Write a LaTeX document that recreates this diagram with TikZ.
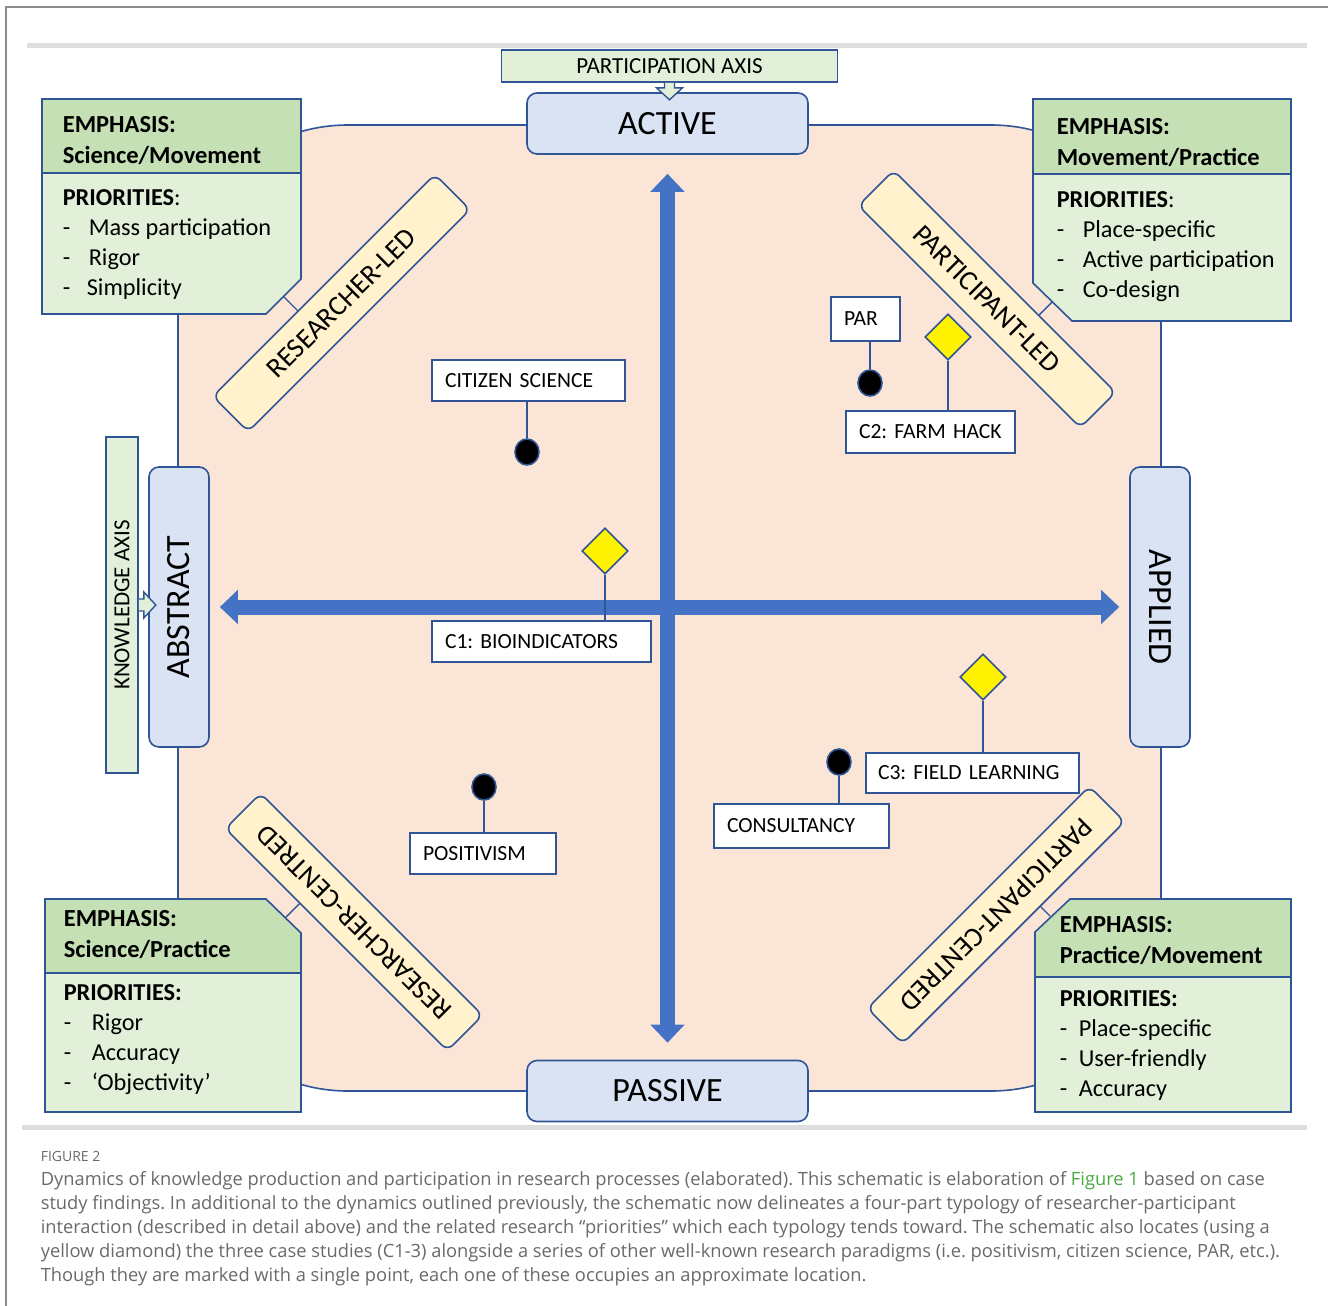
\documentclass[tikz,border=0pt]{standalone}
\usepackage{fontspec}
\setmainfont{Carlito}
\newfontfamily\capfont{Open Sans}
\usepackage{tikz}
\usetikzlibrary{arrows.meta,positioning,shapes.geometric,calc}
\definecolor{edgeblue}{RGB}{47,85,151}
\definecolor{arrowblue}{RGB}{68,114,196}
\definecolor{peach}{RGB}{251,229,214}
\definecolor{axisblue}{RGB}{218,227,243}
\definecolor{headgreen}{RGB}{197,224,180}
\definecolor{bodygreen}{RGB}{226,240,217}
\definecolor{bandyellow}{RGB}{255,242,204}
\definecolor{capgray}{RGB}{105,105,105}
\definecolor{linkgreen}{RGB}{74,170,66}
\frenchspacing

\begin{document}
\begin{tikzpicture}[x=1pt, y=-1pt, line width=1.6pt,
  pole/.style={draw=edgeblue, fill=axisblue, rounded corners=10pt, minimum width=281pt, minimum height=61pt, inner sep=0pt, font=\fontsize{34}{40}\selectfont},
  axisbox/.style={draw=edgeblue, fill=bodygreen, minimum width=336pt, minimum height=32pt, inner sep=0pt, font=\fontsize{23}{26}\selectfont},
  blockarr/.style={draw=edgeblue, fill=bodygreen, line width=1.4pt},
  band/.style={draw=edgeblue, fill=bandyellow, rounded corners=8pt, minimum width=314pt, minimum height=50pt, inner sep=0pt, font=\fontsize{28}{32}\selectfont},
  lbl/.style={draw=edgeblue, fill=white, align=left, inner xsep=13pt, inner ysep=0pt, minimum height=41pt, font=\fontsize{21.6}{25}\selectfont},
  pdot/.style={draw=edgeblue, fill=black, ellipse, minimum width=24pt, minimum height=26pt, inner sep=0pt},
  cdiam/.style={draw=edgeblue, fill=yellow, diamond, minimum width=46pt, minimum height=46pt, inner sep=0pt},
  stem/.style={draw=edgeblue, line width=1.4pt},
  ehead/.style={draw=edgeblue, fill=headgreen},
  ebody/.style={draw=edgeblue, fill=bodygreen},
  emph/.style={anchor=base west, align=left, inner sep=0pt, font=\bfseries\fontsize{24.5}{31}\selectfont},
  prio/.style={anchor=base west, align=left, inner sep=0pt, font=\fontsize{24.3}{30}\selectfont},
  axarr/.style={{Triangle[length=18pt, width=33pt]}-{Triangle[length=18pt, width=33pt]}, line width=15pt, draw=arrowblue},
  frame/.style={draw=black!45, line width=2pt},
  rule/.style={draw=black!13, line width=5pt}
]
\useasboundingbox (0,0) rectangle (1328,1306);
\draw[frame] (6,1306) -- (6,7) -- (1328,7);
\draw[rule] (27,46) -- (1307,46);
\draw[rule] (22,1127) -- (1307,1127);
\draw[draw=edgeblue, fill=peach, rounded corners=170pt] (178,125) rectangle (1161,1091);

\node[pole] (active) at (667.5,123.5) {ACTIVE};
\node[pole] (passive) at (667.5,1091) {PASSIVE};
\node[pole, rotate=90, minimum width=280pt, minimum height=60pt] (abstract) at (179,607) {ABSTRACT};
\node[pole, rotate=-90, minimum width=280pt, minimum height=60pt] (applied) at (1160,607) {APPLIED};
\node[axisbox] (pax) at (669.5,66) {PARTICIPATION AXIS};
\node[axisbox, rotate=90] (kax) at (122,605) {KNOWLEDGE AXIS};
\draw[blockarr] (pax.south) +(-5,0) -- +(-5,5) -- +(-13,5) -- +(0,17) -- +(13,5) -- +(5,5) -- +(5,0);
\draw[blockarr] (kax.south) +(0,-6) -- +(5,-6) -- +(5,-13) -- +(17,0) -- +(5,13) -- +(5,6) -- +(0,6);

\draw[axarr, shorten <=10pt, shorten >=10pt] (abstract.south) -- (applied.south);
\draw[axarr, shorten <=19pt, shorten >=17pt] (active.south) -- (passive.north);

\node[band, rotate=45] (rled) at (341.5,303) {RESEARCHER-LED};
\node[band, rotate=-45] (pled) at (987,299) {PARTICIPANT-LED};
\node[band, rotate=135] (rcent) at (354,922) {RESEARCHER-CENTRED};
\node[band, rotate=-135] (pcent) at (996,915) {PARTICIPANT-CENTRED};

\draw[ehead] (42,99) rectangle (301,173);
\draw[ebody] (42,173) -- (301,173) -- (301,279) -- (266,314) -- (42,314) -- cycle;
\draw[ehead] (1033,99) rectangle (1291,174);
\draw[ebody] (1033,174) -- (1291,174) -- (1291,321) -- (1072,321) -- (1033,283) -- cycle;
\draw[ehead] (45,899) -- (266,899) -- (301,933) -- (301,973) -- (45,973) -- cycle;
\draw[ebody] (45,973) rectangle (301,1112);
\draw[ehead] (1070,899) -- (1291,899) -- (1291,977) -- (1035,977) -- (1035,932) -- cycle;
\draw[ebody] (1035,977) rectangle (1291,1112);

\node[emph] (tlemph) at (62,163) {EMPHASIS:\\Science/Movement};
\node[prio] (tlprio) at (62,295) {\textbf{PRIORITIES}:\\\makebox[26pt][l]{-}Mass participation\\\makebox[26pt][l]{-}Rigor\\\makebox[24pt][l]{-}Simplicity};
\node[emph] (tremph) at (1056,165) {EMPHASIS:\\Movement/Practice};
\node[prio] (trprio) at (1056,297) {\textbf{PRIORITIES}:\\\makebox[26pt][l]{-}Place-specific\\\makebox[26pt][l]{-}Active participation\\\makebox[26pt][l]{-}Co-design};
\node[emph] (blemph) at (63,957) {EMPHASIS:\\Science/Practice};
\node[prio] (blprio) at (63,1090) {\textbf{PRIORITIES:}\\\makebox[28pt][l]{-}Rigor\\\makebox[28pt][l]{-}Accuracy\\\makebox[28pt][l]{-}‘Objectivity’};
\node[emph] (bremph) at (1059,963) {EMPHASIS:\\Practice/Movement};
\node[prio] (brprio) at (1059,1096) {\textbf{PRIORITIES:}\\\makebox[19pt][l]{-}Place-specific\\\makebox[19pt][l]{-}User-friendly\\\makebox[19pt][l]{-}Accuracy};

\coordinate (tlcut) at (284,297);
\coordinate (trcut) at (1052,302);
\coordinate (blcut) at (286,917);
\coordinate (brcut) at (1050,916);
\draw[stem] (tlcut) -- ($(rled.north west)!(tlcut)!(rled.north east)$);
\draw[stem] (trcut) -- ($(pled.north west)!(trcut)!(pled.north east)$);
\draw[stem] (blcut) -- ($(rcent.north west)!(blcut)!(rcent.north east)$);
\draw[stem] (brcut) -- ($(pcent.north west)!(brcut)!(pcent.north east)$);

\node[lbl, text width=167pt] (citsci) at (528.5,380.5) {CITIZEN SCIENCE};
\node[lbl, text width=43pt, minimum height=44pt] (par) at (865.5,319) {PAR};
\node[lbl, text width=143pt, minimum height=42pt] (farm) at (930.5,432) {C2: FARM HACK};
\node[lbl, text width=193pt] (bio) at (541.5,641.5) {C1: BIOINDICATORS};
\node[lbl, text width=120pt] (posit) at (483,853.5) {POSITIVISM};
\node[lbl, text width=189pt, inner xsep=12pt, minimum height=40pt] (field) at (972.5,773) {C3: FIELD LEARNING};
\node[lbl, text width=149pt, minimum height=44pt] (consult) at (801.5,826) {CONSULTANCY};

\node[cdiam] (c2) at (948,337) {};
\node[cdiam] (c1) at (605,551) {};
\node[cdiam] (c3) at (983,677) {};
\node[pdot] (dcit) at (527,452) {};
\node[pdot] (dpar) at (870,383) {};
\node[pdot] (dpos) at (484,787) {};
\node[pdot] (dcon) at (839,762) {};
\draw[stem] (dcit) -- (dcit |- citsci.south);
\draw[stem] (dpar) -- (dpar |- par.south);
\draw[stem] (dpos) -- (dpos |- posit.north);
\draw[stem] (dcon) -- (dcon |- consult.north);
\draw[stem] (c2.south) -- (c2.south |- farm.north);
\draw[stem] (c1.south) -- (c1.south |- bio.north);
\draw[stem] (c3.south) -- (c3.south |- field.north);

\node[anchor=base west, inner sep=0pt, text=capgray, font=\capfont\fontsize{14}{17}\selectfont] (figno) at (40,1161) {FIGURE 2};
\node[anchor=base west, inner sep=0pt, align=left, text=capgray, font=\capfont\fontsize{18.3}{24}\selectfont] (caption) at (40,1281) {Dynamics of knowledge production and participation in research processes (elaborated). This schematic is elaboration of \textcolor{linkgreen}{Figure 1} based on case\\study findings. In additional to the dynamics outlined previously, the schematic now delineates a four-part typology of researcher-participant\\interaction (described in detail above) and the related research “priorities” which each typology tends toward. The schematic also locates (using a\\yellow diamond) the three case studies (C1-3) alongside a series of other well-known research paradigms (i.e. positivism, citizen science, PAR, etc.).\\Though they are marked with a single point, each one of these occupies an approximate location.};
\end{tikzpicture}
\end{document}
